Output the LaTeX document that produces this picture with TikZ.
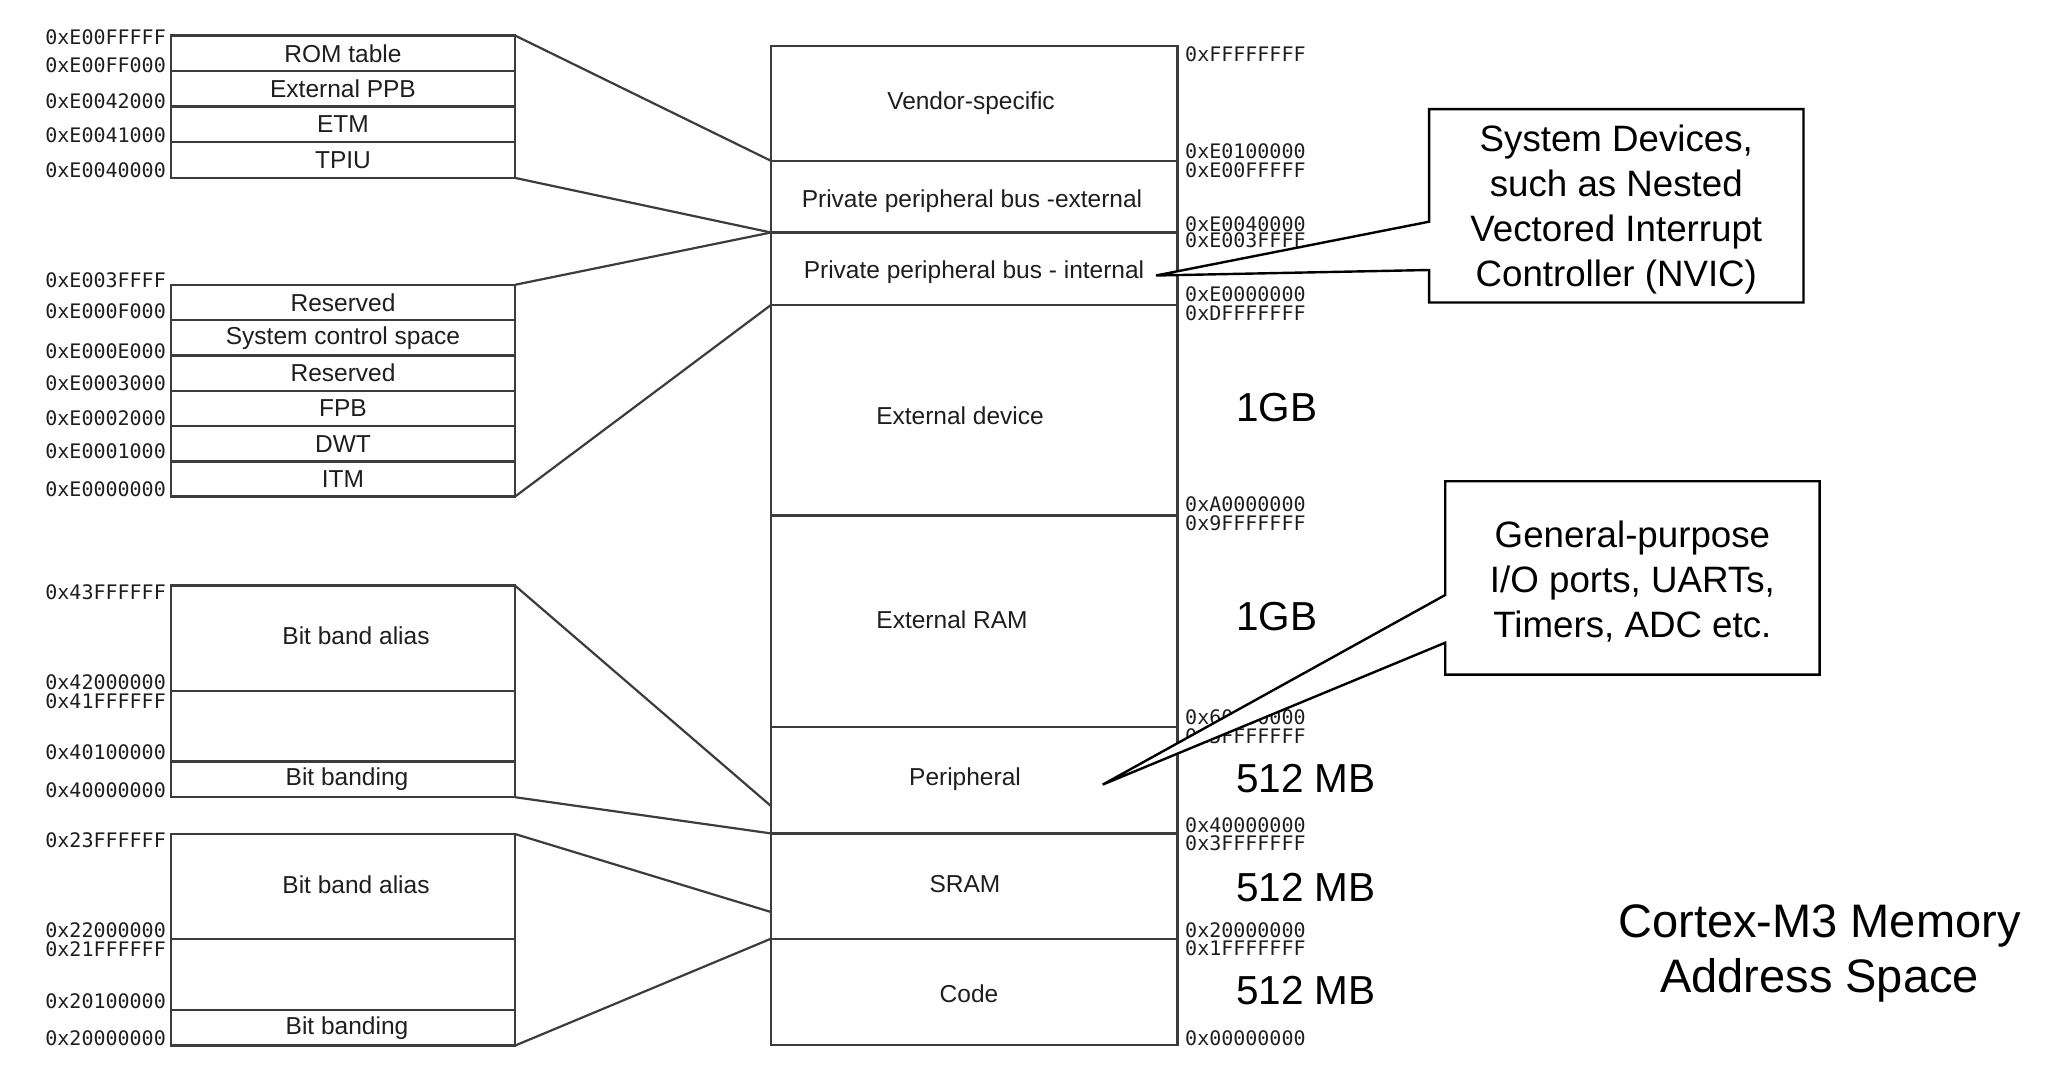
\documentclass[tikz,border=0pt]{standalone}
\usepackage{fontspec}
\setmainfont{Liberation Sans}
\newfontfamily\addrfont{DejaVu Sans Mono}
\usetikzlibrary{positioning}
\definecolor{linegray}{HTML}{3C3C3C}
\definecolor{inkgray}{HTML}{1E1E1E}
\newcommand\boxfont{\fontsize{24.5}{29}\selectfont}

\begin{document}
\begin{tikzpicture}[x=1pt, y=-1pt,
    region/.style={draw=linegray, line width=2.4pt, outer sep=0pt, inner sep=0pt, minimum width=406.7pt},
    cell/.style={draw=linegray, line width=2.4pt, outer sep=0pt, inner sep=0pt, minimum width=344pt, minimum height=35.6pt, font=\boxfont, text=inkgray},
    boxtext/.style={font=\boxfont, text=inkgray, inner sep=0pt},
    addr/.style={font=\addrfont\fontsize{20}{24}\selectfont, text=inkgray, inner sep=0pt},
    sizetag/.style={font=\fontsize{40.5}{48}\selectfont, anchor=west, inner sep=0pt},
    callbox/.style={minimum width=374pt, minimum height=193pt, inner sep=0pt},
    calltext/.style={align=center, font=\fontsize{36.7}{45}\selectfont, inner sep=0pt},
    calloutline/.style={draw=black, line width=2.4pt, fill=white, line join=miter},
    link/.style={draw=linegray, line width=2.2pt}]
    \useasboundingbox (0,0) rectangle (2062,1078);

    % private peripheral bus, external and internal
    \foreach \txt [count=\i] in {ROM table, External PPB, ETM, TPIU}
        \node[cell] (ppbx\i) at (343, {35.5+35.6*(\i-0.5)}) {\txt};
    \foreach \txt [count=\i] in {Reserved, System control space, Reserved, FPB, DWT, ITM}
        \node[cell, minimum height=35.3pt] (ppbi\i) at (343, {284.8+35.3*(\i-0.5)}) {\txt};

    % bit band regions
    \foreach \g/\yt in {1/585.6, 2/834} {
        \node[cell, minimum height=105.2pt] (alias\g) at (343, {\yt+52.6}) {};
        \node[cell, minimum height=70.8pt, below=0pt of alias\g] (gap\g) {};
        \node[cell, below=0pt of gap\g] (band\g) {};
        \node[boxtext] (aliastxt\g) at ([xshift=13pt, yshift=2pt]alias\g.center) {Bit band alias};
        \node[boxtext] (bandtxt\g) at ([xshift=4pt]band\g.center) {Bit banding};
    }

    % memory map
    \foreach \nm/\ya/\yb/\xt/\yt/\txt in {vendor/45.8/160.8/971/103/Vendor-specific,
        pext/160.8/232.5/972/201/Private peripheral bus -external,
        pint/232.5/305/974/272/Private peripheral bus - internal,
        extdev/305/515.6/960/416/External device,
        extram/515.6/727/952/620/External RAM,
        peri/727/833.4/965/779/Peripheral,
        sram/833.4/938.7/965/884/SRAM,
        code/938.7/1045/969/994/Code} {
        \node[region, minimum height={(\yb-\ya)*1pt}] (\nm) at (974.3, {(\ya+\yb)/2}) {};
        \node[boxtext] (\nm txt) at (\xt,\yt) {\txt};
    }

    \foreach \a/\y [count=\i] in {0xFFFFFFFF/54, 0xE0100000/151.5, 0xE00FFFFF/170.5,
        0xE0040000/224.5, 0xE003FFFF/240, 0xE0000000/294.5, 0xDFFFFFFF/313.4,
        0xA0000000/504.5, 0x9FFFFFFF/523.5, 0x60000000/717.7, 0x5FFFFFFF/736.6,
        0x40000000/825.5, 0x3FFFFFFF/843.6, 0x20000000/930.5, 0x1FFFFFFF/948.3,
        0x00000000/1038}
        \node[addr, anchor=west] (radr\i) at (1185,\y) {\a};

    \foreach \a/\y [count=\i] in {0xE00FFFFF/37.2, 0xE00FF000/65.4, 0xE0042000/101,
        0xE0041000/135.4, 0xE0040000/170.5, 0xE003FFFF/280.7, 0xE000F000/311,
        0xE000E000/351.3, 0xE0003000/383.3, 0xE0002000/418.4, 0xE0001000/451,
        0xE0000000/489, 0x43FFFFFF/592.5, 0x42000000/682.4, 0x41FFFFFF/701,
        0x40100000/752.7, 0x40000000/790.5, 0x23FFFFFF/840, 0x22000000/930.5,
        0x21FFFFFF/949.3, 0x20100000/1000.8, 0x20000000/1038}
        \node[addr, anchor=east] (ladr\i) at (166,\y) {\a};

    \coordinate (perimark) at ([yshift=27.4pt]peri.south west);
    \coordinate (srammark) at ([yshift=26.7pt]sram.south west);
    \draw[link]
    (ppbx1.north east) edge (vendor.south west)
    (ppbx4.south east) edge (pext.south west)
    (ppbi1.north east) edge (pext.south west)
    (ppbi6.south east) edge (pint.south west)
    (alias1.north east) edge (perimark)
    (band1.south east) edge (peri.south west)
    (alias2.north east) edge (srammark)
    (band2.south east) edge (sram.south west)
;

    \node[sizetag] (gb1) at (1236,408) {1GB};
    \node[sizetag] (gb2) at (1236,617) {1GB};
    \node[sizetag] (mb1) at (1236,778.5) {512 MB};
    \node[sizetag] (mb2) at (1236,888) {512 MB};
    \node[sizetag] (mb3) at (1236,991) {512 MB};

    % callouts
    \node[callbox] (nvic) at (1616.3,205.8) {};
    \coordinate (nvictip) at (1156,275.5);
    \draw[calloutline] (nvic.north west) -- (nvic.north east) -- (nvic.south east)
        -- (nvic.south west) -- ([yshift=-64.2pt]nvic.west) -- (nvictip)
        -- ([yshift=-15.9pt]nvic.west) -- cycle;
    \node[calltext] (nvictext) at ([yshift=-3.4pt]nvic.center)
        {System Devices,\\such as Nested\\Vectored Interrupt\\Controller (NVIC)};

    \node[callbox] (gpio) at (1632.4,577.9) {};
    \coordinate (gpiotip) at (1102.7,784.6);
    \draw[calloutline] (gpio.north west) -- (gpio.north east) -- (gpio.south east)
        -- (gpio.south west) -- ([yshift=-64.8pt]gpio.west) -- (gpiotip)
        -- ([yshift=-17.1pt]gpio.west) -- cycle;
    \node[calltext] (gpiotext) at ([yshift=-3.5pt]gpio.center)
        {General-purpose\\I/O ports, UARTs,\\Timers, ADC etc.};

    \node[align=center, inner sep=0pt, font=\fontsize{47}{55}\selectfont] (title)
        at (1819.5,953.5) {Cortex-M3 Memory\\Address Space};

\end{tikzpicture}
\end{document}
